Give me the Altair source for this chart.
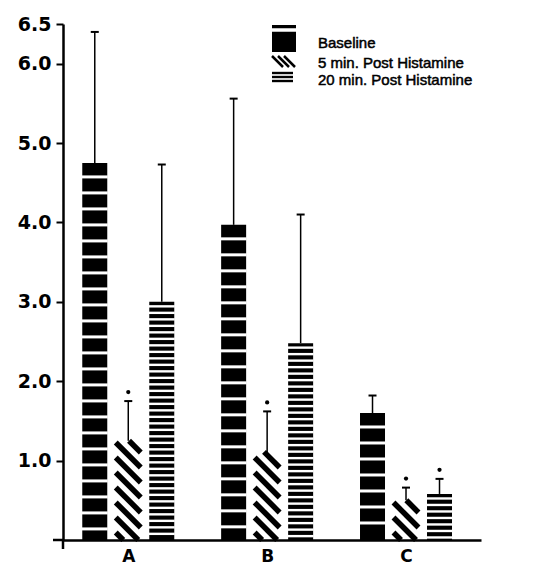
import json
import altair as alt
import pandas as pd
import numpy as np

# ---- data ----
categories = ["A", "B", "C"]
series_names = ["Baseline", "5 min. Post Histamine", "20 min. Post Histamine"]
baseline = [4.75, 3.97, 1.60]
baseline_sd = [1.65, 1.59, 0.22]
post5 = [1.25, 1.11, 0.50]
post5_sd = [0.50, 0.51, 0.16]
post20 = [3.00, 2.48, 0.58]
post20_sd = [1.73, 1.62, 0.19]
sig5 = [True, True, True]
sig20 = [False, False, True]
y_ticks = [1.0, 2.0, 3.0, 4.0, 5.0, 6.0, 6.5]

# ---- layout helpers ----
W, H = 418, 516
XDOM = [-0.47, 2.54]
YDOM = [0, 6.5]
px_x = W / (XDOM[1] - XDOM[0])
px_y = H / (YDOM[1] - YDOM[0])
bar_w = 25 / px_x
offs = [-33.5 / px_x, 0.0, 33.5 / px_x]
cap_w = 4 / px_x

values = [baseline, post5, post20]
sds = [baseline_sd, post5_sd, post20_sd]
sigs = [[False] * 3, sig5, sig20]

rows = []
for s in range(3):
    for i, c in enumerate(categories):
        xc = i + offs[s]
        v = values[s][i]
        rows.append(dict(cat=c, series=series_names[s], s=s, xc=xc,
                         x0=xc - bar_w / 2, x1=xc + bar_w / 2,
                         cx0=xc - cap_w, cx1=xc + cap_w,
                         v=v, top=v + sds[s][i], sig=sigs[s][i],
                         star=v + sds[s][i] + 9 / px_y))
bars = pd.DataFrame(rows)

# white gaps for the baseline (wide bands) and 20-min (narrow bands) patterns
gaps = []
for _, r in bars.iterrows():
    if r.s == 0:
        first, step, wdt = 14 / px_y, 16 / px_y, 3
    elif r.s == 2:
        first, step, wdt = 4.5 / px_y, 6.5 / px_y, 2.4
    else:
        continue
    y = r.v - first
    while y > 2 / px_y:
        gaps.append(dict(x0=r.x0 - 0.5 / px_x, x1=r.x1 + 0.5 / px_x, y=y, w=wdt))
        y -= step
gaps = pd.DataFrame(gaps)

# diagonal hatch for the 5-min bars
hatch = []
drop = 25 / px_y          # vertical drop across the bar width (45 degrees)
period = 15 / px_y
for _, r in bars[bars.s == 1].iterrows():
    c = period * 0.5
    while c < r.v + drop:
        t0 = max(0.0, (c - r.v) / drop)
        t1 = min(1.0, c / drop)
        if t1 - t0 > 0.12:
            hatch.append(dict(x0=r.x0 + t0 * (r.x1 - r.x0), x1=r.x0 + t1 * (r.x1 - r.x0),
                              y=c - drop * t0, y2=c - drop * t1))
        c += period
hatch = pd.DataFrame(hatch)

xs = alt.Scale(domain=XDOM, nice=False, zero=False)
ys = alt.Scale(domain=YDOM, nice=False, zero=True)

x_axis = alt.Axis(values=[0, 1, 2], labelExpr=json.dumps(categories) + "[datum.value]",
                  ticks=False, grid=False, domainColor="black", domainWidth=2.5,
                  labelFont="DejaVu Sans", labelFontWeight="bold", labelFontSize=17,
                  labelColor="black", labelPadding=8, title=None, labelFlush=False)
y_axis = alt.Axis(values=y_ticks, format=".1f", grid=False, tickSize=7, tickWidth=2,
                  tickColor="black", domainColor="black", domainWidth=2.5,
                  labelFont="DejaVu Sans", labelFontWeight="bold", labelFontSize=19,
                  labelColor="black", labelPadding=5, title=None)


def X(f):
    return alt.X(f, scale=xs, axis=x_axis, title=None)


def Y(f):
    return alt.Y(f, scale=ys, axis=y_axis, title=None)


solid = alt.Chart(bars[bars.s != 1]).mark_rect(color="black").encode(
    x=X("x0:Q"), x2="x1:Q", y=Y("v:Q"), y2=alt.datum(0),
)

gap_layer = alt.Chart(gaps).mark_rule(color="white").encode(
    x=X("x0:Q"), x2="x1:Q", y=Y("y:Q"),
    strokeWidth=alt.StrokeWidth("w:Q", scale=None, legend=None),
)

hatch_layer = alt.Chart(hatch).mark_rule(color="black", strokeWidth=5.5, strokeCap="butt").encode(
    x=X("x0:Q"), x2="x1:Q", y=Y("y:Q"), y2="y2:Q",
)

err = alt.Chart(bars).mark_rule(color="black", strokeWidth=1.5).encode(
    x=X("xc:Q"), y=Y("v:Q"), y2="top:Q",
)
caps = alt.Chart(bars).mark_rule(color="black", strokeWidth=2).encode(
    x=X("cx0:Q"), x2="cx1:Q", y=Y("top:Q"),
)
stars = alt.Chart(bars[bars.sig]).mark_point(filled=True, color="black", size=18, opacity=1).encode(
    x=X("xc:Q"), y=Y("star:Q"),
)

# small axis overhangs as in the original
over_x = alt.Chart(bars.head(1)).mark_rule(color="black", strokeWidth=2.5).encode(
    x=alt.value(-10), x2=alt.value(0), y=alt.value(H))
over_y = alt.Chart(bars.head(1)).mark_rule(color="black", strokeWidth=2.5).encode(
    x=alt.value(0), y=alt.value(H), y2=alt.value(H + 9))

# ---- legend (drawn in pixel space) ----
lx, ly = 209, 1
leg_rect_layer = alt.Chart(bars.head(1)).mark_rect(color="black").encode(
    x=alt.value(lx), x2=alt.value(lx + 24), y=alt.value(ly), y2=alt.value(ly + 27))

leg_lines = []
leg_lines.append(dict(a=lx, b=lx + 24, c=ly + 5, d=ly + 5, w=3.5, col="white"))
for dx in [0, 6, 12]:
    leg_lines.append(dict(a=lx + dx, b=lx + dx + 11, c=ly + 31, d=ly + 42, w=2.5, col="black"))
for dy in [48, 52, 56]:
    leg_lines.append(dict(a=lx, b=lx + 21, c=ly + dy, d=ly + dy, w=2.4, col="black"))

leg_layers = []
for L in leg_lines:
    leg_layers.append(
        alt.Chart(bars.head(1)).mark_rule(color=L["col"], strokeWidth=L["w"], strokeCap="butt").encode(
            x=alt.value(L["a"]), x2=alt.value(L["b"]), y=alt.value(L["c"]), y2=alt.value(L["d"])))

text_y = [ly + 23, ly + 43, ly + 60]
for name, ty in zip(series_names, text_y):
    leg_layers.append(
        alt.Chart(bars.head(1)).mark_text(
            align="left", baseline="alphabetic", font="Liberation Sans", fontSize=15,
            color="black", stroke="black", strokeWidth=0.5, text=name).encode(
            x=alt.value(lx + 46), y=alt.value(ty)))

chart = alt.layer(
    solid, gap_layer, hatch_layer, err, caps, stars, over_x, over_y,
    leg_rect_layer, *leg_layers,
).properties(
    width=W, height=H,
    padding={"left": 55, "top": 16, "right": 10, "bottom": 26},
    autosize=alt.AutoSizeParams(type="none"),
    background="white",
).configure_view(stroke=None)

chart.save("out.html", embed_options={"renderer": "svg", "actions": False})
